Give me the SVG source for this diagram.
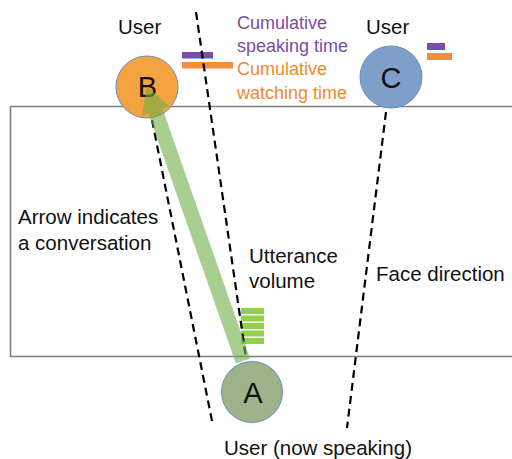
<svg xmlns="http://www.w3.org/2000/svg" width="512" height="459" viewBox="0 0 512 459">
  <style>
    text { font-family: "Liberation Sans", Arial, sans-serif; }
    .lbl { font-size: 20.5px; fill: #111; }
    .small { font-size: 18px; }
    .purple { fill: #7A4DA6; }
    .orange { fill: #F08A2C; }
    .letter { font-size: 29px; fill: #111; text-anchor: middle; }
    .user { stroke: #6D8DB5; stroke-width: 1; }
    .face { stroke: #000; stroke-width: 2.2; stroke-dasharray: 8 5; fill: none; }
    .vol { fill: #92D050; }
  </style>

  <rect width="512" height="459" fill="#fff"/>

  <!-- room outline (open to the right) -->
  <path d="M520 106.5 H10.5 V356.5 H520" fill="none" stroke="#7F7F7F" stroke-width="1.6"/>

  <!-- utterance volume meter -->
  <g id="volume">
    <rect class="vol" x="241" y="308" width="23" height="6"/>
    <rect class="vol" x="241" y="315.5" width="23" height="6"/>
    <rect class="vol" x="241" y="323" width="23" height="6"/>
    <rect class="vol" x="241" y="330.5" width="23" height="6"/>
    <rect class="vol" x="241" y="338" width="23" height="6"/>
  </g>

  <g id="node-A">
    <circle class="user" cx="252" cy="392" r="30.5" fill="#9FB38B"/>
    <text class="letter" x="253" y="403">A</text>
    <text class="lbl" x="224" y="455">User (now speaking)</text>
  </g>

  <g id="node-B">
    <circle class="user" cx="147" cy="87" r="31" fill="#F5A340"/>
    <text class="letter" x="147.5" y="97">B</text>
    <text class="lbl" x="118" y="34">User</text>
    <rect x="182" y="52" width="31" height="6.5" fill="#7A4DA6"/>
    <rect x="182" y="62" width="51" height="6.5" fill="#F28E3A"/>
  </g>

  <g id="node-C">
    <circle class="user" cx="391" cy="77" r="31" fill="#7F9FCB"/>
    <text class="letter" x="391" y="88">C</text>
    <text class="lbl" x="366" y="34">User</text>
    <rect x="427" y="43" width="18" height="7" fill="#7A4DA6"/>
    <rect x="427" y="53" width="25" height="7" fill="#F28E3A"/>
  </g>

  <!-- face directions and conversation arrow (A to B) -->
  <g id="connectors">
    <line class="face" x1="152" y1="120" x2="213" y2="426"/>
    <line class="face" x1="196" y1="12" x2="246" y2="358"/>
    <line class="face" x1="386" y1="112" x2="347" y2="428"/>
    <g transform="translate(243,361) rotate(-109.3)">
      <path d="M0 -7.5 H265 V-14.5 L291 0 L265 14.5 V7.5 H0 Z" fill="#70AD47" fill-opacity="0.6"/>
    </g>
  </g>

  <!-- legend and annotations -->
  <g id="labels">
    <text class="small purple" x="237" y="29">Cumulative</text>
    <text class="small purple" x="237" y="52">speaking time</text>
    <text class="small orange" x="237" y="75">Cumulative</text>
    <text class="small orange" x="237" y="99">watching time</text>
    <text class="lbl" x="18" y="224">Arrow indicates</text>
    <text class="lbl" x="18" y="250">a conversation</text>
    <text class="lbl" x="249" y="263">Utterance</text>
    <text class="lbl" x="249" y="288">volume</text>
    <text class="lbl" x="376" y="281">Face direction</text>
  </g>
</svg>
